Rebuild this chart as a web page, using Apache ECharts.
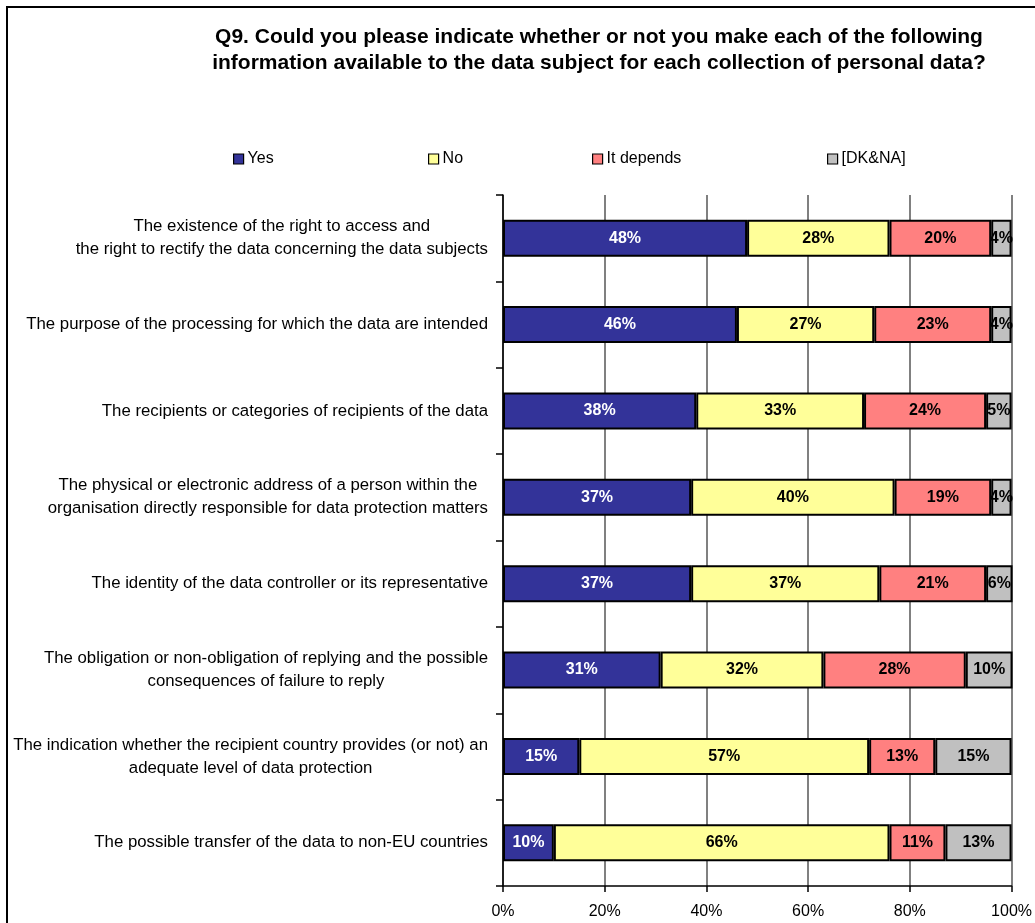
<!DOCTYPE html>
<html>
<head>
<meta charset="utf-8">
<script src="https://cdn.jsdelivr.net/npm/echarts@6/dist/echarts.min.js"></script>
<style>
html, body { margin: 0; padding: 0; background: #ffffff; }
#chart { width: 1035px; height: 923px; }
</style>
</head>
<body>
<div id="chart"></div>
<script>
// Survey items, listed top to bottom
const categories = [
  'The existence of the right to access and\nthe right to rectify the data concerning the data subjects',
  'The purpose of the processing for which the data are intended',
  'The recipients or categories of recipients of the data',
  'The physical or electronic address of a person within the\norganisation directly responsible for data protection matters',
  'The identity of the data controller or its representative',
  'The obligation or non-obligation of replying and the possible\nconsequences of failure to reply',
  'The indication whether the recipient country provides (or not) an\nadequate level of data protection',
  'The possible transfer of the data to non-EU countries'
];

// Answer shares, in percent
const yesValues     = [48, 46, 38, 37, 37, 31, 15, 10];
const noValues      = [28, 27, 33, 40, 37, 32, 57, 66];
const dependsValues = [20, 23, 24, 19, 21, 28, 13, 11];
const dkValues      = [4, 4, 5, 4, 6, 10, 15, 13];

const seriesNames = ['Yes', 'No', 'It depends', '[DK&NA]'];
const seriesColors = ['#333399', '#FFFF99', '#FF8080', '#C0C0C0'];
const labelColors = ['#ffffff', '#000000', '#000000', '#000000'];
const xTicks = [0, 20, 40, 60, 80, 100];

const FONT = '"Liberation Sans", Arial, sans-serif';

const chart = echarts.init(document.getElementById('chart'), null, { renderer: 'canvas' });

const valueSets = [yesValues, noValues, dependsValues, dkValues];
const series = valueSets.map((vals, i) => ({
  name: seriesNames[i],
  type: 'bar',
  stack: 'share',
  barWidth: 37,
  data: vals,
  itemStyle: { color: seriesColors[i], borderColor: '#000000', borderWidth: 2 },
  label: {
    show: true,
    position: 'inside',
    formatter: '{c}%',
    color: labelColors[i],
    fontFamily: FONT,
    fontWeight: 'bold',
    fontSize: 16
  },
  emphasis: { disabled: true }
}));

// One legend per entry so each item sits at its own position
const legendLefts = [228, 423, 587, 822];
const legends = seriesNames.map((name, i) => ({
  data: [name],
  left: legendLefts[i],
  top: 146,
  itemWidth: 10,
  itemHeight: 10,
  itemGap: 4,
  icon: 'rect',
  selectedMode: false,
  itemStyle: { borderColor: '#000000', borderWidth: 1.2 },
  textStyle: { fontFamily: FONT, fontSize: 16, color: '#000000', padding: [0, 0, 0, -1] }
}));

chart.setOption({
  animation: false,
  backgroundColor: '#ffffff',
  title: {
    text: 'Q9. Could you please indicate whether or not you make each of the following\ninformation available to the data subject for each collection of personal data?',
    left: 594,
    top: 19,
    textAlign: 'center',
    textStyle: { fontFamily: FONT, fontWeight: 'bold', fontSize: 21, lineHeight: 26, color: '#000000' }
  },
  legend: legends,
  graphic: [{
    type: 'rect',
    z: -10,
    shape: { x: 7, y: 7, width: 1200, height: 1100 },
    style: { fill: 'none', stroke: '#000000', lineWidth: 2 }
  }],
  grid: { left: 503, right: 23, top: 195, bottom: 37, containLabel: false },
  xAxis: {
    type: 'value',
    min: xTicks[0],
    max: xTicks[xTicks.length - 1],
    interval: xTicks[1] - xTicks[0],
    axisLine: { show: true, lineStyle: { color: '#000000', width: 1.5 } },
    axisTick: { show: true, length: 6, lineStyle: { color: '#000000', width: 1.5 } },
    axisLabel: { formatter: '{value}%', fontFamily: FONT, fontSize: 16, color: '#000000', margin: 18 },
    splitLine: { show: true, lineStyle: { color: '#808080', width: 2 } }
  },
  yAxis: {
    type: 'category',
    inverse: true,
    data: categories,
    axisLine: { show: true, lineStyle: { color: '#000000', width: 1.5 } },
    axisTick: { show: true, length: 7, lineStyle: { color: '#000000', width: 1.5 } },
    axisLabel: {
      margin: 15,
      fontFamily: FONT,
      fontSize: 16.8,
      color: '#000000',
      lineHeight: 23,
      formatter: v => v.split('\n').map(line => '{c|' + line + '}').join('\n'),
      rich: { c: { align: 'center', fontFamily: FONT, fontSize: 16.8, color: '#000000', lineHeight: 23 } }
    }
  },
  series: series
});
</script>
</body>
</html>
